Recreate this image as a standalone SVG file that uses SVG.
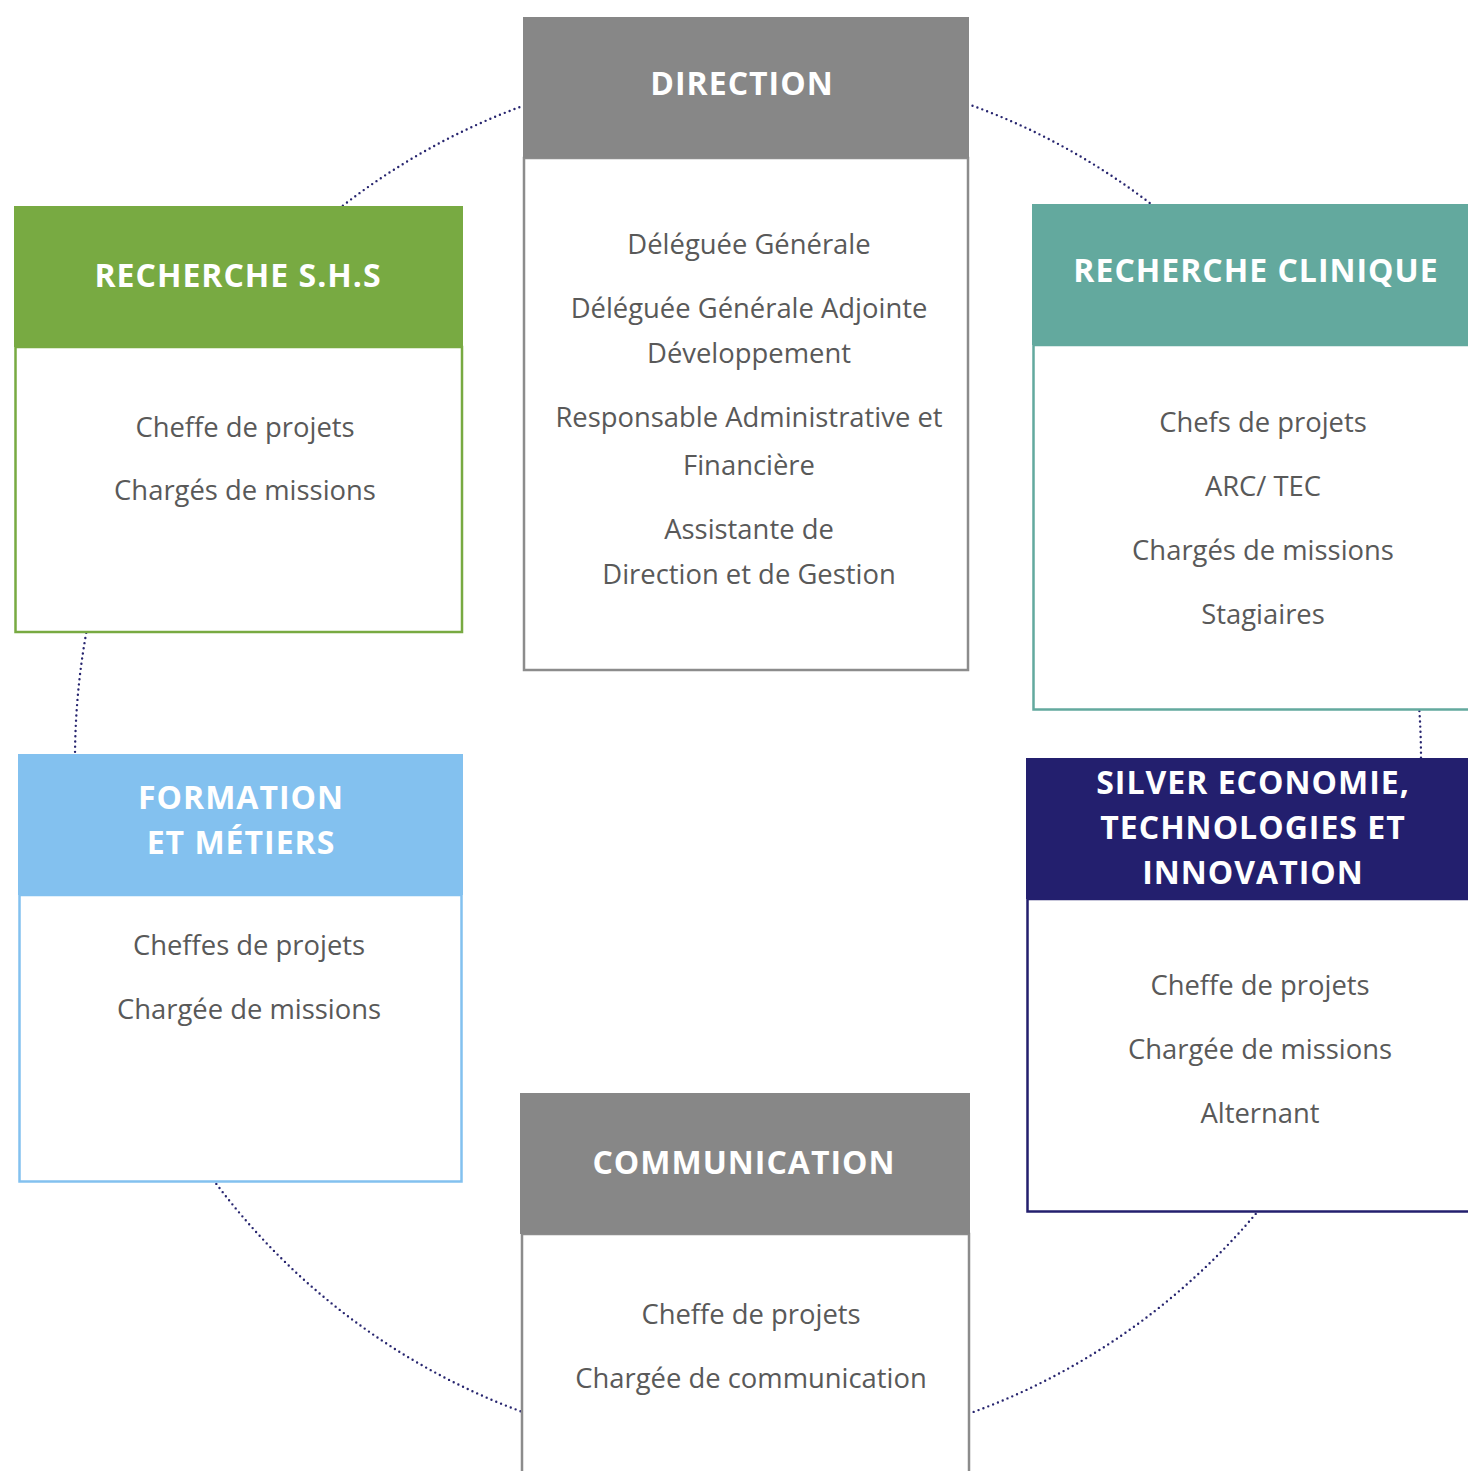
<svg xmlns="http://www.w3.org/2000/svg" width="1468" height="1471" viewBox="0 0 1468 1471">
<style>
.hd{font-family:"Open Sans","Liberation Sans",sans-serif;font-weight:700;font-size:32px;fill:#ffffff;text-anchor:middle;letter-spacing:1px}
.bt{font-family:"Open Sans","Liberation Sans",sans-serif;font-size:27.4px;fill:#595959;text-anchor:middle}
.body{fill:#ffffff;stroke-width:2.5}
</style>
<rect width="1468" height="1471" fill="#ffffff"/>
<g id="connectors">
<ellipse cx="748" cy="759" rx="673" ry="693" fill="none" stroke="#27256f" stroke-width="2.4" stroke-linecap="round" stroke-dasharray="0 5.2"/>
</g>
<g id="direction">
<rect class="body" x="524" y="158" width="444" height="512" stroke="#8c8c8c"/>
<rect x="523" y="17" width="446" height="141" fill="#878787"/>
<text class="hd" x="742" y="95">DIRECTION</text>
<text class="bt" x="749" y="254">Déléguée Générale</text>
<text class="bt" x="749" y="318">Déléguée Générale Adjointe</text>
<text class="bt" x="749" y="363">Développement</text>
<text class="bt" x="749" y="427">Responsable Administrative et</text>
<text class="bt" x="749" y="475">Financière</text>
<text class="bt" x="749" y="539">Assistante de</text>
<text class="bt" x="749" y="584">Direction et de Gestion</text>
</g>
<g id="recherche-shs">
<rect class="body" x="15.5" y="347" width="446.5" height="285" stroke="#78aa42"/>
<rect x="14" y="206" width="449" height="141" fill="#78aa42"/>
<text class="hd" x="238" y="287">RECHERCHE S.H.S</text>
<text class="bt" x="245" y="437">Cheffe de projets</text>
<text class="bt" x="245" y="500">Chargés de missions</text>
</g>
<g id="recherche-clinique">
<rect class="body" x="1033.5" y="345" width="440" height="364.5" stroke="#63a99e"/>
<rect x="1032" y="204" width="440" height="141" fill="#63a99e"/>
<text class="hd" x="1256" y="282">RECHERCHE CLINIQUE</text>
<text class="bt" x="1263" y="432">Chefs de projets</text>
<text class="bt" x="1263" y="496">ARC/ TEC</text>
<text class="bt" x="1263" y="560">Chargés de missions</text>
<text class="bt" x="1263" y="624">Stagiaires</text>
</g>
<g id="formation">
<rect class="body" x="19.5" y="895" width="442" height="286.5" stroke="#83c1ef"/>
<rect x="18" y="754" width="445" height="141" fill="#83c1ef"/>
<text class="hd" x="241" y="809">FORMATION</text>
<text class="hd" x="241" y="854">ET MÉTIERS</text>
<text class="bt" x="249" y="955">Cheffes de projets</text>
<text class="bt" x="249" y="1019">Chargée de missions</text>
</g>
<g id="silver">
<rect class="body" x="1027.5" y="899" width="446" height="312.5" stroke="#231f6e"/>
<rect x="1026" y="758" width="446" height="141" fill="#231f6e"/>
<text class="hd" x="1253" y="794">SILVER ECONOMIE,</text>
<text class="hd" x="1253" y="839">TECHNOLOGIES ET</text>
<text class="hd" x="1253" y="884">INNOVATION</text>
<text class="bt" x="1260" y="995">Cheffe de projets</text>
<text class="bt" x="1260" y="1059">Chargée de missions</text>
<text class="bt" x="1260" y="1123">Alternant</text>
</g>
<g id="communication">
<rect class="body" x="522" y="1234" width="447" height="250" stroke="#8c8c8c"/>
<rect x="520" y="1093" width="450" height="141" fill="#878787"/>
<text class="hd" x="744" y="1174">COMMUNICATION</text>
<text class="bt" x="751" y="1324">Cheffe de projets</text>
<text class="bt" x="751" y="1388">Chargée de communication</text>
</g>
</svg>
